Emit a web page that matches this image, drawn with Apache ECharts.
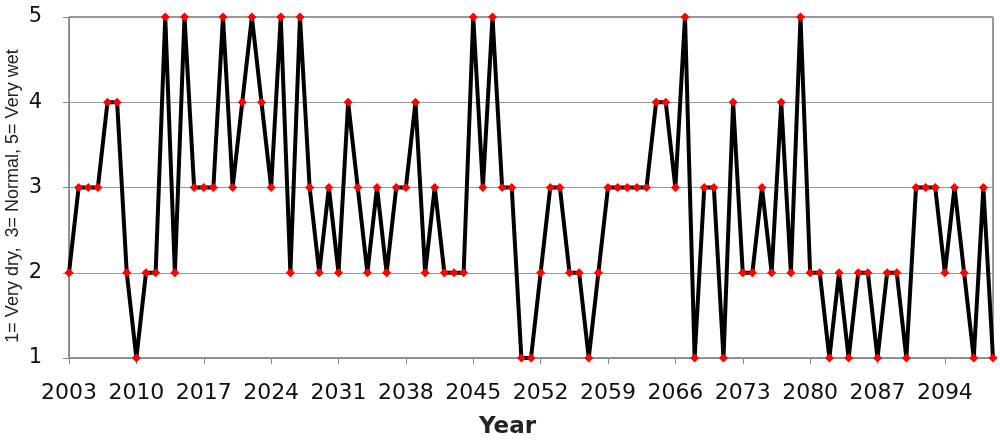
<!DOCTYPE html>
<html>
<head>
<meta charset="utf-8">
<script src="https://cdn.jsdelivr.net/npm/echarts@6/dist/echarts.min.js"></script>
<style>html,body{margin:0;padding:0;background:#fff}#c{width:1000px;height:440px}</style>
</head>
<body>
<div id="c"></div>
<script>
const firstYear = 2003;
const values = [
  2,3,3,3,4,4,2,1,2,2,      // 2003-2012
  5,2,5,3,3,3,5,3,4,5,      // 2013-2022
  4,3,5,2,5,3,2,3,2,4,      // 2023-2032
  3,2,3,2,3,3,4,2,3,2,      // 2033-2042
  2,2,5,3,5,3,3,1,1,2,      // 2043-2052
  3,3,2,2,1,2,3,3,3,3,      // 2053-2062
  3,4,4,3,5,1,3,3,1,4,      // 2063-2072
  2,2,3,2,4,2,5,2,2,1,      // 2073-2082
  2,1,2,2,1,2,2,1,3,3,      // 2083-2092
  3,2,3,2,1,3,1             // 2093-2099
];
const years = values.map((v, i) => String(firstYear + i));
const yTicks = [1, 2, 3, 4, 5];
const yAxisTitle = '1= Very dry,  3= Normal, 5= Very wet';
const xAxisTitle = 'Year';

const chart = echarts.init(document.getElementById('c'), null, {renderer: 'canvas'});
chart.setOption({
  animation: false,
  backgroundColor: '#fff',
  grid: {left: 69, right: 7, top: 17, bottom: 82, show: true, borderColor: '#333', borderWidth: 1},
  xAxis: {
    type: 'category',
    data: years,
    boundaryGap: false,
    axisLine: {lineStyle: {color: '#888', width: 1}},
    axisTick: {show: true, interval: 6, length: 6, lineStyle: {color: '#888'}},
    axisLabel: {interval: 6, color: '#111', fontSize: 22, fontFamily: 'DejaVu Sans', margin: 24},
    splitLine: {show: false}
  },
  yAxis: {
    type: 'value',
    min: yTicks[0], max: yTicks[yTicks.length - 1], interval: 1,
    axisLine: {show: true, lineStyle: {color: '#888', width: 1}},
    axisTick: {show: true, length: 6, lineStyle: {color: '#888'}},
    axisLabel: {color: '#111', fontSize: 21, fontFamily: 'DejaVu Sans', margin: 27},
    splitLine: {show: true, lineStyle: {color: '#999', width: 1}}
  },
  graphic: [
    {type: 'text', left: 479, top: 416, style: {text: xAxisTitle, font: 'bold 23px "DejaVu Sans"', fill: '#222'}},
    {type: 'text', x: 4, y: 196, rotation: Math.PI / 2, style: {text: yAxisTitle, font: '18px "Liberation Sans"', fill: '#222', align: 'center', verticalAlign: 'top'}}
  ],
  series: [{
    type: 'line',
    data: values,
    showAllSymbol: true,
    lineStyle: {color: '#000', width: 4},
    symbol: 'diamond',
    symbolSize: 9,
    itemStyle: {color: '#ff0000', borderWidth: 0},
    z: 3
  }]
});
</script>
</body>
</html>
